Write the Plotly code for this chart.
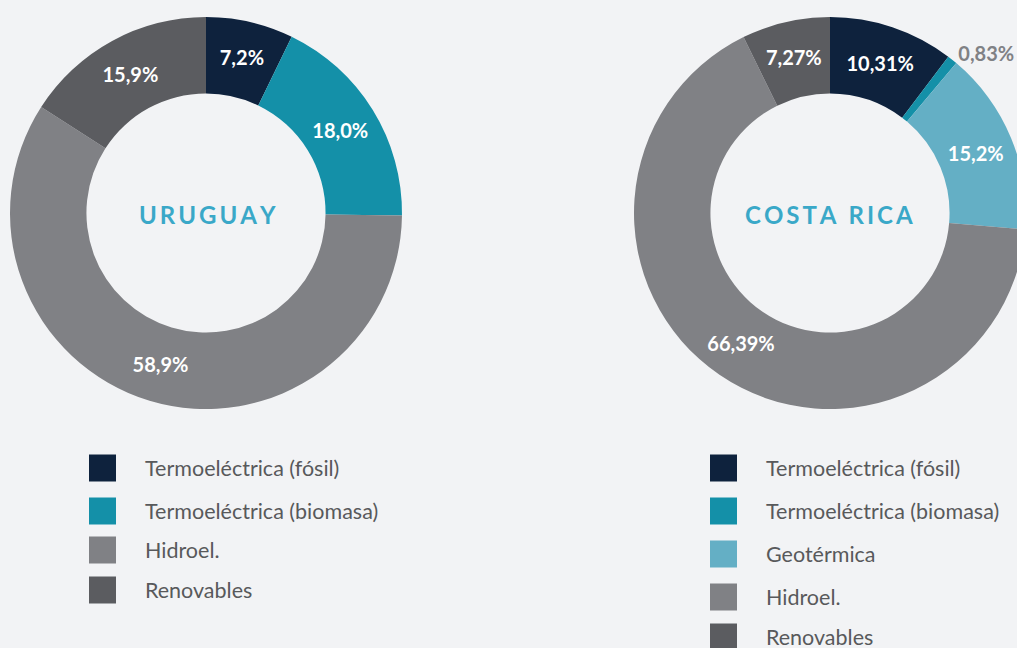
import plotly.graph_objects as go

W, H = 1017, 648      # reference canvas
FW = 1030             # figure width (right donut is cut by the window edge)
BG = "#F2F3F5"

# Data
uy_categories = ["Termoeléctrica (fósil)", "Termoeléctrica (biomasa)", "Hidroel.", "Renovables"]
uy_values = [7.2, 18.0, 58.9, 15.9]
uy_labels = ["7,2%", "18,0%", "58,9%", "15,9%"]
uy_colors = ["#0E223D", "#1490A8", "#808185", "#5B5C60"]

cr_categories = ["Termoeléctrica (fósil)", "Termoeléctrica (biomasa)", "Geotérmica", "Hidroel.", "Renovables"]
cr_values = [10.31, 0.83, 15.2, 66.39, 7.27]
cr_labels = ["10,31%", "0,83%", "15,2%", "66,39%", "7,27%"]
cr_colors = ["#0E223D", "#1490A8", "#64AFC5", "#808185", "#5B5C60"]

def px_dom(x0, x1, y0, y1):
    return dict(x=[x0 / FW, x1 / FW], y=[1 - y1 / H, 1 - y0 / H])

fig = go.Figure()
fig.add_trace(go.Pie(
    labels=uy_categories, values=uy_values, text=uy_labels,
    textinfo="text", textposition="inside", insidetextorientation="horizontal",
    hole=0.61, sort=False, direction="clockwise", rotation=0,
    marker=dict(colors=uy_colors, line=dict(width=0)),
    textfont=dict(family="Lato", size=20, color="white", weight="bold"),
    domain=px_dom(10, 402, 17, 409), showlegend=False,
))
cr_pos = ["inside", "outside", "inside", "inside", "inside"]
cr_tcol = ["white", "#808185", "white", "white", "white"]
fig.add_trace(go.Pie(
    labels=cr_categories, values=cr_values, text=cr_labels,
    textinfo="text", textposition=cr_pos, insidetextorientation="horizontal",
    hole=0.61, sort=False, direction="clockwise", rotation=0,
    marker=dict(colors=cr_colors, line=dict(width=0)),
    textfont=dict(family="Lato", size=20, color=cr_tcol, weight="bold"),
    domain=px_dom(634, 1026, 17, 409), showlegend=False,
))

ann = []
ann.append(dict(x=207 / FW, y=1 - 214 / H, xref="paper", yref="paper",
                xanchor="center", yanchor="middle",
                text="\u2009".join("URUGUAY"), showarrow=False,
                font=dict(family="Lato", size=24, color="#3AA8C8", weight="bold")))
ann.append(dict(x=829 / FW, y=1 - 214 / H, xref="paper", yref="paper",
                xanchor="center", yanchor="middle",
                text="\u2009".join("COSTA") + "\u2002" + "\u2009".join("RICA"), showarrow=False,
                font=dict(family="Lato", size=24, color="#3AA8C8", weight="bold")))

shapes = []
def legend(x, ys, cats, cols):
    for y, c, col in zip(ys, cats, cols):
        shapes.append(dict(type="rect", xref="paper", yref="paper",
                           x0=x / FW, x1=(x + 27) / FW, y0=1 - (y + 13.5) / H, y1=1 - (y - 13.5) / H,
                           fillcolor=col, line=dict(width=0)))
        ann.append(dict(x=(x + 54) / FW, y=1 - y / H, xref="paper", yref="paper",
                        xanchor="left", yanchor="middle", text=c, showarrow=False,
                        font=dict(family="Lato", size=21.5, color="#58595B")))

legend(89, [468, 511, 550, 590], uy_categories, uy_colors)
legend(710, [468, 511, 554, 597, 637], cr_categories, cr_colors)

fig.update_layout(width=FW, height=H, margin=dict(l=0, r=0, t=0, b=0),
                  paper_bgcolor=BG, plot_bgcolor=BG,
                  annotations=ann, shapes=shapes)
fig.write_html("out.html", config={"displayModeBar": False},
               post_script="document.body.style.margin='0';document.body.style.overflow='hidden';"
                           "document.body.style.background='" + BG + "';")
